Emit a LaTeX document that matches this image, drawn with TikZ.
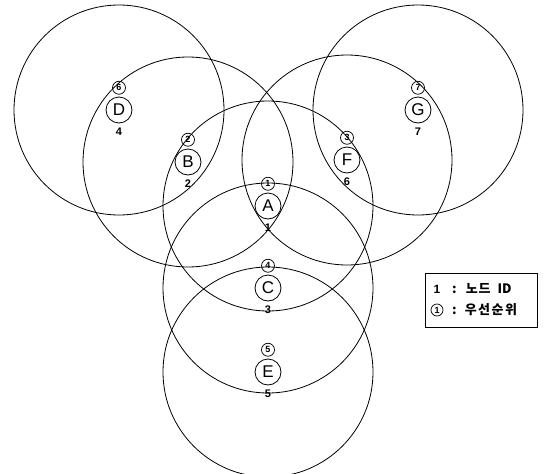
\documentclass[tikz,border=0pt]{standalone}
\usepackage{fontspec}
\setmainfont{Liberation Sans}
\newfontfamily\kofont{Noto Sans CJK KR}
\usetikzlibrary{positioning}

\tikzset{
  rangecirc/.style={draw, line width=0.8pt},
  stn/.style={draw, circle, line width=0.8pt, minimum size=26pt, inner sep=0pt, font=\fontsize{17}{17}\selectfont},
  prio/.style={draw, circle, line width=0.7pt, minimum size=13pt, inner sep=0pt, font=\fontsize{9}{9}\selectfont\bfseries},
  nid/.style={inner sep=0pt, font=\fontsize{11}{11}\selectfont\bfseries},
  keytxt/.style={inner sep=0pt, anchor=west, font=\kofont\fontsize{13}{13}\selectfont\bfseries},
}

\begin{document}
\begin{tikzpicture}[x=1pt,y=-1pt]
\useasboundingbox (0,0) rectangle (544,474);

% stations
\node[stn] (D) at (119,110) {D};
\node[stn] (B) at (188,162) {B};
\node[stn] (A) at (268,206) {A};
\node[stn] (F) at (347,160) {F};
\node[stn] (G) at (418,110) {G};
\node[stn] (C) at (268,288) {C};
\node[stn] (E) at (268,372) {E};

% priority (above) and node ID (below)
\node[prio, above=2pt of D] (pD) {6};
\node[nid, below=4pt of D] (iD) {4};
\node[prio, above=2pt of B] (pB) {2};
\node[nid, below=4pt of B] (iB) {2};
\node[prio, above=2pt of A] (pA) {1};
\node[nid, below=4pt of A] (iA) {1};
\node[prio, above=2pt of F] (pF) {3};
\node[nid, below=4pt of F] (iF) {6};
\node[prio, above=2pt of G] (pG) {7};
\node[nid, below=4pt of G] (iG) {7};
\node[prio, above=2pt of C] (pC) {4};
\node[nid, below=4pt of C] (iC) {3};
\node[prio, above=2pt of E] (pE) {5};
\node[nid, below=4pt of E] (iE) {5};

% transmission ranges
\foreach \s in {A,B,C,D,E,F,G}
  \draw[rangecirc] (\s) circle (105pt);

% legend
\node[draw, line width=0.8pt, minimum width=112pt, minimum height=54pt, inner sep=0pt] (key) at (481,300) {};
\node[nid, font=\fontsize{12}{12}\selectfont\bfseries] (k1) at (437,289) {1};
\node[keytxt] (k1t) at (452,289) {:\hspace{9pt}노\hspace{1pt}드\hspace{7pt}ID};
\node[prio, minimum size=12pt] (k2) at (437,310) {1};
\node[keytxt] (k2t) at (452,310) {:\hspace{8pt}우\hspace{1.5pt}선\hspace{1.5pt}순\hspace{1.5pt}위};
\end{tikzpicture}
\end{document}
